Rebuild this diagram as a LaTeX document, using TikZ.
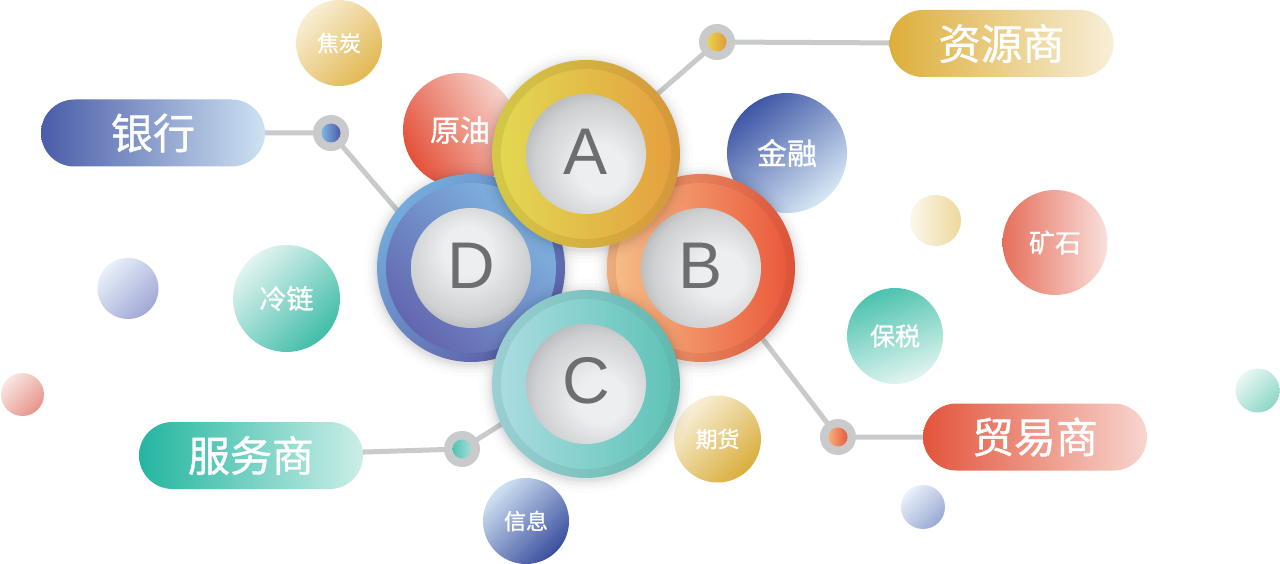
\documentclass[tikz,border=0pt]{standalone}
\usepackage{fontspec}
\setmainfont{Liberation Sans}
\newfontfamily\cjk[FakeBold=1.0]{Noto Sans CJK SC}
\usetikzlibrary{calc}
\pgfdeclarelayer{bg}
\pgfsetlayers{bg,main}
\definecolor{linegray}{HTML}{C9CACB}
\definecolor{lettergray}{HTML}{6D6E70}
\definecolor{cl}{HTML}{EDEEEF}
\definecolor{cm}{HTML}{CFD0D2}
\definecolor{cd}{HTML}{9C9EA0}
\pgfdeclareradialshading{coreTL}{\pgfpoint{8bp}{-8bp}}{color(0bp)=(cl); color(10bp)=(cl); color(25bp)=(cm); color(37bp)=(cd); color(50bp)=(cd)}
\pgfdeclareradialshading{coreT}{\pgfpoint{-2bp}{9bp}}{color(0bp)=(cl); color(10bp)=(cl); color(25bp)=(cm); color(36bp)=(cd); color(50bp)=(cd)}
\pgfdeclareradialshading{coreR}{\pgfpoint{10bp}{-3bp}}{color(0bp)=(cl); color(10bp)=(cl); color(25bp)=(cm); color(37bp)=(cd); color(50bp)=(cd)}
\tikzset{
  pill/.style={rectangle, rounded corners=33.5pt, minimum width=224pt, minimum height=67pt, inner sep=0pt, text=white, font=\cjk\fontsize{42}{42}\selectfont},
  bub/.style={circle, inner sep=0pt, text=white, font=\cjk\fontsize{#1}{#1}\selectfont},
  conn/.style={line width=5pt, draw=linegray},
  dotring/.style={circle, fill=linegray, minimum size=36pt, inner sep=0pt},
  dotcore/.style={circle, minimum size=19pt, inner sep=0pt},
  outerring/.style={circle, minimum size=188pt, inner sep=0pt},
  innerring/.style={circle, minimum size=170pt, inner sep=0pt},
  core/.style={circle, minimum size=120pt, inner sep=0pt, shade},
  letter/.style={inner sep=0pt, text=lettergray, font=\fontsize{66}{66}\selectfont},
}
\newcommand{\bigshadow}[2]{%
  \foreach \rr/\oo in {107/0.012,103/0.018,100/0.024,97.5/0.03,95.5/0.035}{\fill[black, opacity=\oo] (#1,#2+2) circle (\rr pt);}}
\begin{document}
\begin{tikzpicture}[x=1pt,y=-1pt]
\useasboundingbox (0,0) rectangle (1280,564);

% small bubbles
\node[bub=22, minimum size=86pt, top color={rgb,255:red,248;green,238;blue,213}, bottom color={rgb,255:red,226;green,184;blue,82}, shading angle=45] (jiaotan) at (339,43) {焦炭};
\node[bub=30, minimum size=114pt, top color={rgb,255:red,247;green,212;blue,205}, bottom color={rgb,255:red,228;green,81;blue,58}, shading angle=-60] (yuanyou) at (460,130) {原油};
\node[bub=30, minimum size=120pt, top color={rgb,255:red,63;green,86;blue,165}, bottom color={rgb,255:red,214;green,232;blue,245}, shading angle=40] (jinrong) at (787,153) {金融};
\node[bub=10, minimum size=51pt, left color={rgb,255:red,252;green,248;blue,236}, right color={rgb,255:red,237;green,215;blue,155}] (cream) at (935.5,220.5) {};
\node[bub=26, minimum size=105pt, left color={rgb,255:red,230;green,110;blue,91}, right color={rgb,255:red,249;green,224;blue,219}] (kuangshi) at (1055,242.5) {矿石};
\node[bub=25, minimum size=96pt, top color={rgb,255:red,76;green,194;blue,174}, bottom color={rgb,255:red,226;green,245;blue,241}, shading angle=20] (baoshui) at (895,336) {保税};
\node[bub=10, minimum size=44pt, top color={rgb,255:red,234;green,247;blue,244}, bottom color={rgb,255:red,140;green,215;blue,200}, shading angle=45] (tealsmall) at (1257.5,390.5) {};
\node[bub=10, minimum size=44pt, top color={rgb,255:red,234;green,241;blue,250}, bottom color={rgb,255:red,154;green,169;blue,212}, shading angle=45] (bluesmall) at (923,507) {};
\node[bub=22, minimum size=87pt, top color={rgb,255:red,248;green,240;blue,218}, bottom color={rgb,255:red,217;green,174;blue,60}, shading angle=45] (qihuo) at (717.5,439) {期货};
\node[bub=22, minimum size=86pt, top color={rgb,255:red,207;green,226;blue,243}, bottom color={rgb,255:red,58;green,78;blue,158}, shading angle=45] (xinxi) at (526,521) {信息};
\node[bub=27, minimum size=107pt, top color={rgb,255:red,227;green,244;blue,241}, bottom color={rgb,255:red,64;green,189;blue,168}, shading angle=45] (lenglian) at (286.5,298.5) {冷链};
\node[bub=10, minimum size=61pt, top color={rgb,255:red,232;green,240;blue,249}, bottom color={rgb,255:red,160;green,168;blue,214}, shading angle=45] (blueleft) at (128,288.5) {};
\node[bub=10, minimum size=43pt, top color={rgb,255:red,249;green,230;blue,227}, bottom color={rgb,255:red,232;green,148;blue,138}, shading angle=45] (redleft) at (22.5,394.5) {};

% big circles
\bigshadow{471}{268}
\node[outerring, top color={rgb,255:red,116;green,171;blue,219}, bottom color={rgb,255:red,91;green,94;blue,166}, shading angle=45] (D) at (471,268) {};
\node[innerring, top color={rgb,255:red,128;green,182;blue,226}, bottom color={rgb,255:red,99;green,102;blue,175}, shading angle=-45] (Dring) at (471,268) {};
\node[core, shading=coreT] (Dcore) at (471,268) {};
\node[letter] (Dl) at (471,265.5) {D};

\bigshadow{701}{268}
\node[outerring, left color={rgb,255:red,236;green,172;blue,124}, right color={rgb,255:red,220;green,82;blue,56}] (B) at (701,268) {};
\node[innerring, left color={rgb,255:red,246;green,188;blue,134}, right color={rgb,255:red,234;green,90;blue,60}] (Bring) at (701,268) {};
\node[core, shading=coreR] (Bcore) at (701,268) {};
\node[letter] (Bl) at (701,265.5) {B};

\bigshadow{586}{154}
\node[outerring, left color={rgb,255:red,211;green,201;blue,70}, right color={rgb,255:red,214;green,150;blue,59}] (A) at (586,154) {};
\node[innerring, left color={rgb,255:red,226;green,216;blue,82}, right color={rgb,255:red,228;green,161;blue,63}] (Aring) at (586,154) {};
\node[core, shading=coreTL] (Acore) at (586,154) {};
\node[letter] (Al) at (586,151.5) {A};

\bigshadow{586}{384}
\node[outerring, left color={rgb,255:red,156;green,207;blue,211}, right color={rgb,255:red,95;green,184;blue,174}] (C) at (586,384) {};
\node[innerring, left color={rgb,255:red,169;green,220;blue,224}, right color={rgb,255:red,96;green,195;blue,184}] (Cring) at (586,384) {};
\node[core, shading=coreTL] (Ccore) at (586,384) {};
\node[letter] (Cl) at (586,381) {C};

% pills
\node[pill, left color={rgb,255:red,74;green,92;blue,168}, right color={rgb,255:red,205;green,226;blue,241}] (bank) at (153,133) {银行};
\node[pill, left color={rgb,255:red,221;green,174;blue,58}, right color={rgb,255:red,248;green,239;blue,216}] (res) at (1001.5,43.5) {资源商};
\node[pill, left color={rgb,255:red,227;green,84;blue,59}, right color={rgb,255:red,248;green,213;blue,207}] (trade) at (1035,437) {贸易商};
\node[pill, left color={rgb,255:red,35;green,181;blue,160}, right color={rgb,255:red,203;green,238;blue,231}] (serv) at (251,455.5) {服务商};

% dots
\node[dotring] (dbank) at (331,133) {};
\node[dotcore, left color={rgb,255:red,125;green,182;blue,228}, right color={rgb,255:red,82;green,87;blue,166}] (dbankc) at (dbank) {};
\node[dotring] (dres) at (717,42) {};
\node[dotcore, left color={rgb,255:red,233;green,210;blue,74}, right color={rgb,255:red,226;green,154;blue,62}] (dresc) at (dres) {};
\node[dotring] (dtrade) at (838,437) {};
\node[dotcore, left color={rgb,255:red,245;green,176;blue,122}, right color={rgb,255:red,230;green,90;blue,62}] (dtradec) at (dtrade) {};
\node[dotring] (dserv) at (462,449) {};
\node[dotcore, left color={rgb,255:red,85;green,194;blue,179}, right color={rgb,255:red,165;green,221;blue,216}] (dservc) at (dserv) {};

% connector ends (hidden under big circles)
\coordinate (ebank) at (420,237);
\coordinate (eres) at (640,109);
\coordinate (etrade) at (745,316);
\coordinate (eserv) at (540,400);

\begin{pgfonlayer}{bg}
\fill[white] (0,0) rectangle (1280,564);
\draw[conn] (bank.center) -- (dbank.center) -- (ebank);
\draw[conn] (res.center) -- (dres.center) -- (eres);
\draw[conn] (trade.center) -- (dtrade.center) -- (etrade);
\draw[conn] (serv.center) -- (dserv.center) -- (eserv);
\end{pgfonlayer}
\end{tikzpicture}
\end{document}
